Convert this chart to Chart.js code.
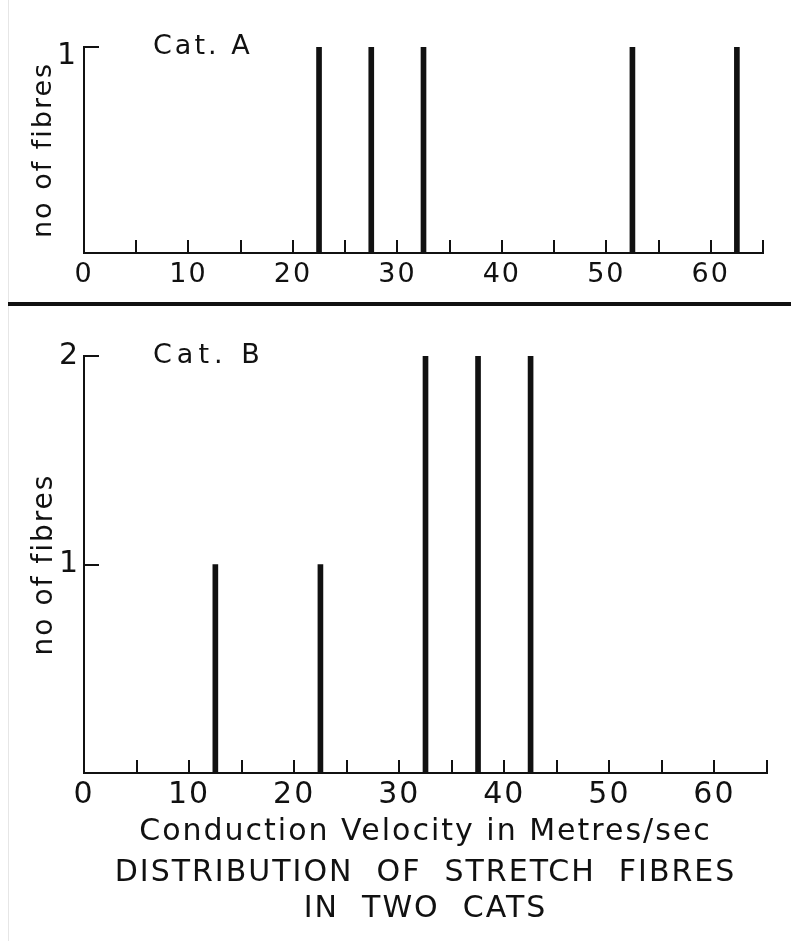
<!DOCTYPE html>
<html>
<head>
<meta charset="utf-8">
<title>Distribution of stretch fibres in two cats</title>
<script src="https://cdn.jsdelivr.net/npm/chart.js@4.4.0/dist/chart.umd.min.js"></script>
<style>
  body { margin: 0; background: #fff; }
  #page { position: relative; width: 791px; height: 941px; overflow: hidden; background: #fff; }
  #page canvas { position: absolute; left: 0; }
  #catA { top: 0; }
  #catB { top: 310px; }
  .rule { position: absolute; left: 8px; top: 302px; width: 783px; height: 4px; background: #111; }
  .edge { position: absolute; left: 8px; top: 0; width: 1px; height: 941px; background: #e6e6e6; }
</style>
</head>
<body>
<div id="page">
  <div class="edge"></div>
  <canvas id="catA" width="791" height="300"></canvas>
  <div class="rule"></div>
  <canvas id="catB" width="791" height="631"></canvas>
</div>
<script>
const ink = '#111';
const fontFamily = '"DejaVu Sans", sans-serif';

// conduction velocity (m/s, centre of each 5 m/s bin) and number of fibres
const velocityA = [22.5, 27.5, 32.5, 52.5, 62.5];
const fibresA = [1, 1, 1, 1, 1];
const velocityB = [12.5, 22.5, 32.5, 37.5, 42.5];
const fibresB = [1, 1, 2, 2, 2];

const xLabels = [0, 10, 20, 30, 40, 50, 60];
const catNames = ['Cat. A', 'Cat. B'];
const yTitle = 'no of fibres';
const xTitle = 'Conduction Velocity in Metres/sec';
const caption = ['DISTRIBUTION  OF  STRETCH  FIBRES', 'IN  TWO  CATS'];

// the hand lettering is widely spaced, chart.js has no option for it
const spacedText = {
    id: 'spacedText',
    beforeUpdate(chart, args, opts) { chart.ctx.letterSpacing = opts.px + 'px'; },
    beforeDraw(chart, args, opts) { chart.ctx.letterSpacing = opts.px + 'px'; }
};

// small tick marks pointing into the plot instead of out of it
const innerTicks = {
    id: 'innerTicks',
    afterDraw(chart) {
        const { ctx, scales: { x, y } } = chart;
        ctx.save();
        ctx.strokeStyle = ink;
        ctx.lineWidth = 2;
        ctx.beginPath();
        x.ticks.forEach(t => {
            const px = Math.round(x.getPixelForValue(t.value));
            ctx.moveTo(px, y.bottom);
            ctx.lineTo(px, y.bottom - 13);
        });
        y.ticks.forEach(t => {
            if (t.value === 0) return;
            const py = Math.round(y.getPixelForValue(t.value));
            ctx.moveTo(x.left, py);
            ctx.lineTo(x.left + 15, py);
        });
        ctx.stroke();
        ctx.restore();
    }
};

// "Cat. A" / "Cat. B" written inside the top of each plot
const panelName = {
    id: 'panelName',
    afterDraw(chart, args, opts) {
        const { ctx, chartArea } = chart;
        ctx.save();
        ctx.font = opts.size + 'px ' + fontFamily;
        ctx.letterSpacing = opts.spacing + 'px';
        ctx.fillStyle = ink;
        ctx.textBaseline = 'middle';
        ctx.fillText(opts.text, chartArea.left + 69, chartArea.top);
        ctx.restore();
    }
};

function makeChart(id, cfg) {
    const ctx = document.getElementById(id).getContext('2d');
    return new Chart(ctx, {
        type: 'bar',
        data: {
            datasets: [{
                data: cfg.xs.map((v, i) => ({ x: v, y: cfg.ys[i] })),
                backgroundColor: ink,
                borderWidth: 0,
                barThickness: 5
            }]
        },
        plugins: [spacedText, innerTicks, panelName],
        options: {
            responsive: false,
            animation: false,
            layout: { padding: cfg.padding },
            plugins: {
                legend: { display: false },
                tooltip: { enabled: false },
                spacedText: { px: 2 },
                panelName: { text: cfg.name, size: 27, spacing: cfg.nameSpacing },
                title: cfg.caption ? {
                    display: true,
                    position: 'bottom',
                    fullSize: false,
                    text: cfg.caption,
                    color: ink,
                    font: { family: fontFamily, size: 30, weight: 'normal', lineHeight: '36px' },
                    padding: { top: 2, bottom: 14 }
                } : { display: false }
            },
            scales: {
                x: {
                    type: 'linear',
                    min: 0,
                    max: 65,
                    offset: false,
                    grid: { display: false, drawTicks: false, offset: false },
                    border: { color: ink, width: 2 },
                    ticks: {
                        stepSize: 5,
                        autoSkip: false,
                        maxRotation: 0,
                        minRotation: 0,
                        padding: cfg.xPad,
                        color: ink,
                        font: { family: fontFamily, size: cfg.xFont },
                        callback: (value) => xLabels.includes(value) ? String(value) : ''
                    },
                    title: cfg.xTitle ? {
                        display: true,
                        text: cfg.xTitle,
                        color: ink,
                        font: { family: fontFamily, size: 30, lineHeight: '36px' },
                        padding: { top: 0, bottom: 3 }
                    } : { display: false },
                    afterFit: (scale) => { scale.height = cfg.xHeight; }
                },
                y: {
                    min: 0,
                    max: cfg.yMax,
                    grid: { display: false, drawTicks: false },
                    border: { color: ink, width: 2 },
                    ticks: {
                        stepSize: 1,
                        padding: cfg.yPad,
                        labelOffset: cfg.yLabelOffset,
                        color: ink,
                        font: { family: fontFamily, size: 30 },
                        callback: (value) => value === 0 ? '' : String(value)
                    },
                    title: {
                        display: true,
                        text: yTitle,
                        color: ink,
                        font: { family: fontFamily, size: cfg.yTitleFont },
                        padding: { top: 28, bottom: 0 }
                    },
                    afterFit: (scale) => { scale.width = 84; }
                }
            }
        }
    });
}

makeChart('catA', {
    xs: velocityA, ys: fibresA, yMax: 1, name: catNames[0], nameSpacing: 3,
    padding: { top: 47, right: 28, bottom: 0, left: 0 },
    xHeight: 47, xPad: 6, xFont: 27, yPad: 6, yLabelOffset: 9, yTitleFont: 27
});

makeChart('catB', {
    xs: velocityB, ys: fibresB, yMax: 2, name: catNames[1], nameSpacing: 5,
    padding: { top: 46, right: 24, bottom: 0, left: 0 },
    xHeight: 80, xPad: 4, xFont: 30, yPad: 4, yLabelOffset: 0, yTitleFont: 28,
    xTitle: xTitle, caption: caption
});
</script>
</body>
</html>
